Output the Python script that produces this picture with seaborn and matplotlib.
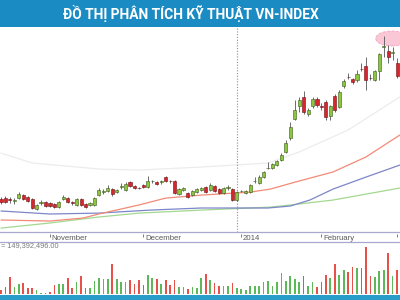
import numpy as np
import pandas as pd
import matplotlib
matplotlib.use("Agg")
import matplotlib.pyplot as plt
import seaborn as sns
from matplotlib.patches import Ellipse, Rectangle

title = "ĐỒ THỊ PHÂN TÍCH KỸ THUẬT VN-INDEX"

opens = [495.7, 496.3, 495.2, 494.3, 496.3, 498.3, 497.0, 495.7, 489.0, 493.0,
         493.7, 493.0, 492.3, 490.3, 495.7, 496.3, 493.2, 491.7, 495.7, 492.3,
         491.7, 491.7, 498.3, 500.3, 501.0, 502.3, 500.3, 503.7, 501.7, 507.0,
         504.3, 503.0, 505.0, 503.7, 507.5, 507.0, 507.0, 510.3, 507.7, 507.7,
         499.0, 501.7, 499.7, 498.3, 500.3, 501.7, 503.7, 501.7, 504.3, 502.3,
         499.7, 503.0, 502.3, 495.0, 500.8, 499.7, 500.3, 507.5, 506.3, 510.3,
         516.3, 516.3, 518.3, 521.7, 527.0, 536.3, 549.0, 557.7, 563.7, 552.3,
         557.7, 562.3, 557.2, 560.3, 551.0, 564.3, 557.0, 571.0, 577.0, 575.7,
         575.0, 582.3, 584.3, 576.5, 575.0, 581.0, 597.0, 594.3, 593.0, 586.3]
closes = [493.7, 493.7, 495.0, 494.5, 499.0, 495.7, 494.3, 489.7, 491.7, 493.2,
          491.0, 491.0, 490.3, 493.7, 497.0, 493.7, 493.0, 495.7, 491.7, 490.3,
          493.0, 496.3, 501.7, 500.5, 503.0, 499.0, 501.7, 503.9, 505.7, 504.3,
          503.0, 502.8, 503.7, 507.7, 507.7, 505.7, 507.2, 507.7, 507.5, 499.7,
          502.3, 503.0, 497.0, 501.0, 502.3, 503.0, 500.3, 505.0, 501.0, 499.7,
          503.0, 503.2, 495.0, 500.3, 501.0, 501.0, 505.0, 507.7, 510.3, 513.7,
          516.5, 519.0, 521.0, 525.0, 533.0, 543.7, 555.0, 561.7, 553.7, 555.0,
          562.3, 558.3, 557.0, 550.3, 557.7, 555.0, 567.0, 574.3, 576.8, 573.7,
          579.0, 582.1, 575.0, 576.3, 581.0, 592.3, 597.2, 590.3, 593.2, 577.7]
highs = [497.0, 497.7, 497.0, 496.3, 500.3, 499.0, 497.7, 496.3, 492.3, 495.0,
         494.3, 493.7, 493.0, 494.3, 498.3, 497.0, 494.3, 496.3, 496.3, 493.0,
         493.7, 497.0, 503.0, 502.3, 505.0, 503.0, 502.3, 506.3, 507.0, 507.7,
         505.0, 503.7, 505.7, 511.0, 508.3, 507.7, 508.3, 511.0, 508.3, 508.3,
         503.0, 503.7, 500.3, 501.7, 503.0, 503.7, 504.3, 506.3, 505.0, 503.0,
         503.7, 505.0, 503.0, 501.0, 501.7, 501.7, 505.7, 510.3, 511.7, 514.3,
         520.3, 519.7, 521.7, 526.3, 535.0, 547.0, 561.7, 563.7, 567.7, 556.3,
         563.7, 563.7, 559.7, 561.7, 558.3, 565.7, 568.3, 575.7, 579.7, 576.3,
         581.7, 586.3, 590.3, 579.0, 581.7, 593.0, 604.3, 598.3, 597.0, 589.7]
lows = [492.3, 493.0, 493.0, 492.3, 495.7, 495.0, 493.7, 489.0, 488.3, 491.7,
        490.3, 490.3, 489.7, 489.7, 495.0, 493.0, 491.7, 491.0, 491.0, 489.7,
        491.0, 491.0, 497.7, 499.0, 500.3, 497.7, 499.7, 502.3, 501.0, 503.7,
        502.3, 502.3, 503.0, 503.0, 506.3, 505.0, 505.7, 507.0, 506.3, 499.0,
        498.3, 501.0, 496.3, 497.7, 499.7, 501.0, 499.7, 501.0, 500.3, 499.0,
        499.0, 501.7, 494.3, 494.3, 500.3, 499.0, 499.7, 506.3, 505.7, 509.7,
        515.7, 515.7, 517.7, 521.0, 526.3, 535.0, 548.3, 553.7, 552.3, 551.0,
        556.3, 557.0, 555.0, 548.3, 548.3, 553.7, 556.3, 569.7, 575.7, 572.3,
        573.7, 581.0, 568.3, 575.0, 574.3, 575.0, 590.3, 586.3, 588.3, 576.3]
volumes = [12, 21, 51, 21, 30, 33, 18, 18, 12, 3, 3, 6, 27, 30, 30, 48, 18, 36, 54, 18,
           18, 39, 48, 45, 45, 90, 45, 36, 36, 42, 30, 42, 27, 57, 48, 45, 30, 42, 27, 42,
           21, 21, 15, 21, 18, 48, 60, 42, 33, 24, 24, 24, 33, 18, 15, 12, 24, 24, 24, 36,
           39, 24, 36, 63, 39, 54, 45, 36, 54, 24, 36, 21, 36, 57, 48, 90, 57, 72, 66, 81,
           78, 78, 141, 54, 51, 69, 72, 123, 54, 72]

ma_red_x = [0, 11, 18.4, 22, 31, 37, 45, 56, 60.5, 67, 74.6, 82, 89.6]
ma_red = [481.7, 481.0, 483.0, 485.7, 491.7, 496.3, 498.3, 500.3, 502.3, 507.7, 513.7, 523.7, 538.3]
ma_blue_x = [0, 11, 22, 33.5, 45, 60, 65, 69.4, 74.6, 82, 89.6]
ma_blue = [487.7, 485.7, 486.3, 488.3, 489.7, 489.7, 491.0, 495.0, 502.3, 510.3, 518.3]
ma_green_x = [0, 11, 22, 31, 45, 60.5, 65, 74.6, 89.6]
ma_green = [476.3, 479.7, 483.7, 486.3, 488.3, 490.3, 491.7, 495.0, 503.0]
band_x = [0, 7, 22, 31, 45, 60, 67, 78, 89.6]
band_up = [526.3, 519.7, 515.7, 515.0, 517.0, 519.7, 527.0, 541.7, 563.7]

month_ticks = [11, 32, 54, 72, 89]
month_labels = ["November", "December", "2014", "February", ""]
year_line = 52.95
volume_label = "= 149,392,496.00"

sns.set_theme(style="white")
plt.rcParams['font.family'] = ['Liberation Sans', 'DejaVu Sans']

fig = plt.figure(figsize=(4, 3), dpi=100)
H = 300.0
xlim = (-0.225, 89.66)

# title banner
fig.add_artist(Rectangle((0, 1 - 27 / H), 1, 27 / H, transform=fig.transFigure,
                         facecolor="#1a8bc3", edgecolor="none"))
fig.text(0.478, 1 - 14 / H, title, color="white", fontsize=9.9, fontweight="bold",
         family=["Roboto", "DejaVu Sans"], ha="center", va="center")

# main price axes
ax = fig.add_axes([0, (H - 232) / H, 1, 204 / H])
ax.set_xlim(*xlim)
ax.set_ylim(473.7, 609.7)
ax.axis("off")

ax.add_patch(Ellipse((87.8, 602.7), width=7.2, height=10.0, facecolor="#f9c7d6",
                     edgecolor="#f2a6bf", lw=0.6, ls="--", zorder=1))

sns.lineplot(x=band_x, y=band_up, ax=ax, color="#ececec", lw=0.9, zorder=2)
sns.lineplot(x=ma_green_x, y=ma_green, ax=ax, color="#a3d890", lw=0.9, zorder=2)
sns.lineplot(x=ma_blue_x, y=ma_blue, ax=ax, color="#7d86c8", lw=0.9, zorder=2)
sns.lineplot(x=ma_red_x, y=ma_red, ax=ax, color="#f28a78", lw=0.9, zorder=2)

ax.axvline(year_line, color="#8a8ab8", lw=0.8, ls=(0, (1, 1.5)), zorder=2)

idx = np.arange(len(opens))
o = np.array(opens); c = np.array(closes)
up = c > o
body_bottom = np.minimum(o, c)
body_h = np.maximum(np.abs(c - o), 0.4)
ax.vlines(idx, lows, highs, color="#555555", lw=0.6, zorder=3)
ax.bar(idx[up], body_h[up], bottom=body_bottom[up], width=0.7,
       color="#8cc63f", edgecolor="#3c5a1c", lw=0.4, zorder=4)
ax.bar(idx[~up], body_h[~up], bottom=body_bottom[~up], width=0.7,
       color="#d7262e", edgecolor="#6e1212", lw=0.4, zorder=4)

# date band
axb = fig.add_axes([0, (H - 242) / H, 1, 10 / H])
axb.set_xlim(*xlim)
axb.set_ylim(0, 1)
axb.set_xticks([]); axb.set_yticks([])
for s in ["left", "right"]:
    axb.spines[s].set_visible(False)
for s in ["top", "bottom"]:
    axb.spines[s].set_color("#a9a9cf")
    axb.spines[s].set_linewidth(0.9)
axb.patch.set_alpha(0)
for t, lab in zip(month_ticks, month_labels):
    axb.vlines(t, 0.5, 0.85, color="#666666", lw=0.6)
    if lab:
        axb.text(t + 0.35, 0.4, lab, fontsize=5.6, color="#5a5a5a", ha="left", va="center")

fig.text(0.002, (H - 246) / H, volume_label, fontsize=5.3, color="#7a7a7a",
         ha="left", va="center")

# volume axes
axv = fig.add_axes([0, 6 / H, 1, 50 / H])
vdf = pd.DataFrame({"i": idx, "vol": volumes,
                    "dir": np.where(up, "up", "down")})
sns.barplot(data=vdf, x="i", y="vol", hue="dir", native_scale=True,
            palette={"up": "#5db85a", "down": "#e8514a"}, width=0.38,
            saturation=1, legend=False, dodge=False, ax=axv, linewidth=0)
axv.set_xlim(*xlim)
axv.set_ylim(0, 150)
axv.axis("off")

fig.add_artist(Rectangle((0, 0), 1, 5 / H, transform=fig.transFigure,
                         facecolor="#2a9cca", edgecolor="none"))

fig.savefig("out.png", dpi=100)
